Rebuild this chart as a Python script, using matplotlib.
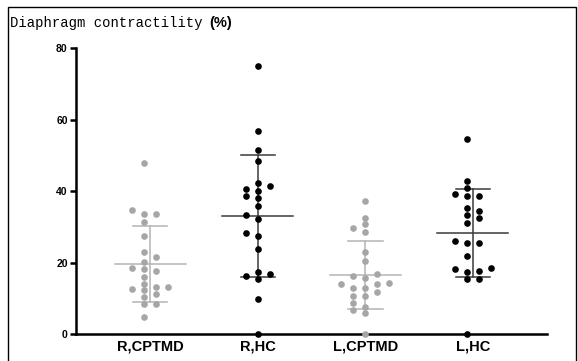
import numpy as np
import matplotlib
matplotlib.use("Agg")
import matplotlib.pyplot as plt
from matplotlib.patches import Rectangle

# values (%)
groups = ["R,CPTMD", "R,HC", "L,CPTMD", "L,HC"]

r_cptmd = [4.9, 8.3, 8.5, 10.5, 11.1, 12.3, 12.6, 13.1, 13.1, 14.0, 16.1, 17.6,
           18.2, 18.6, 20.2, 21.5, 23.1, 27.5, 31.5, 33.6, 33.6, 34.8, 47.9]
r_hc = [0.0, 9.7, 15.3, 16.3, 16.7, 17.3, 23.9, 27.5, 28.2, 32.1, 33.4, 35.8,
        38.0, 38.8, 40.1, 40.5, 41.5, 42.2, 48.5, 51.5, 56.8, 75.1]
l_cptmd = [0.0, 5.8, 6.7, 7.5, 8.6, 10.7, 10.7, 11.8, 12.8, 13.0, 13.9, 13.9,
           14.4, 15.6, 16.3, 16.7, 20.5, 22.9, 28.7, 29.6, 30.7, 32.6, 37.2]
l_hc = [0.0, 15.4, 15.4, 17.3, 17.6, 18.2, 18.6, 21.9, 25.6, 25.6, 26.0, 31.2,
        32.6, 33.3, 34.4, 35.2, 38.6, 38.7, 39.1, 40.8, 42.9, 54.6]

data = [r_cptmd, r_hc, l_cptmd, l_hc]
colors = ["#a6a6a6", "black", "#a6a6a6", "black"]
line_colors = ["#b4b4b4", "#3a3a3a", "#b4b4b4", "#3a3a3a"]
centered = [False, True, True, False]  # odd/even column layout of the swarm


def swarm_offsets(vals, centered, step=0.111, gap=1.6):
    # greedy column layout like Prism's scatter dot plot
    if centered:
        slots = [0, -1, 1, -2, 2, -3, 3]
    else:
        slots = [-0.5, 0.5, -1.5, 1.5, -2.5, 2.5]
    placed = {s: [] for s in slots}
    offs = np.zeros(len(vals))
    for i in np.argsort(vals):
        v = vals[i]
        for s in slots:
            if all(abs(v - p) >= gap for p in placed[s]):
                placed[s].append(v)
                offs[i] = s * step
                break
    return offs


fig = plt.figure(figsize=(5.78, 3.61), dpi=100)
ax = fig.add_axes([0.1315, 0.0748, 0.815, 0.791])

for i, vals in enumerate(data):
    vals = np.array(vals)
    x = i + swarm_offsets(vals, centered[i])
    ax.scatter(x, vals, s=23, color=colors[i], zorder=4, clip_on=False,
               linewidths=0)
    m = vals.mean()
    sd = vals.std(ddof=1)
    lc = line_colors[i]
    ax.plot([i - 0.33, i + 0.33], [m, m], color=lc, lw=1.1, zorder=3)
    ax.plot([i, i], [m - sd, m + sd], color=lc, lw=1.1, zorder=3)
    for y in (m - sd, m + sd):
        ax.plot([i - 0.16, i + 0.16], [y, y], color=lc, lw=1.1, zorder=3)

ax.set_xlim(-0.69, 3.69)
ax.set_ylim(0, 80)
ax.set_yticks([0, 20, 40, 60, 80])
ax.set_yticklabels(["0", "20", "40", "60", "80"], fontsize=7.5,
                   fontweight="bold", family="Liberation Sans")
ax.set_xticks(range(4))
ax.set_xticklabels(groups, fontsize=10.5, fontweight="bold",
                   family="Liberation Sans")
ax.tick_params(axis="y", length=4, width=1.8, pad=2)
ax.tick_params(axis="x", length=0, pad=4)
for side in ["top", "right"]:
    ax.spines[side].set_visible(False)
for side in ["left", "bottom"]:
    ax.spines[side].set_linewidth(1.8)

t1 = fig.text(0.017, 0.936, "Diaphragm contractility", fontsize=10,
              family="Liberation Mono", va="center")
fig.canvas.draw()
bb = t1.get_window_extent().transformed(fig.transFigure.inverted())
fig.text(bb.x1 + 0.012, 0.936, "(%)", fontsize=10.5, fontweight="bold",
         family="Liberation Sans", va="center")

fig.patches.append(Rectangle((0.014, -0.02), 0.983, 1.0, transform=fig.transFigure,
                             fill=False, edgecolor="black", lw=1.0))

fig.savefig("out.png", dpi=100)
